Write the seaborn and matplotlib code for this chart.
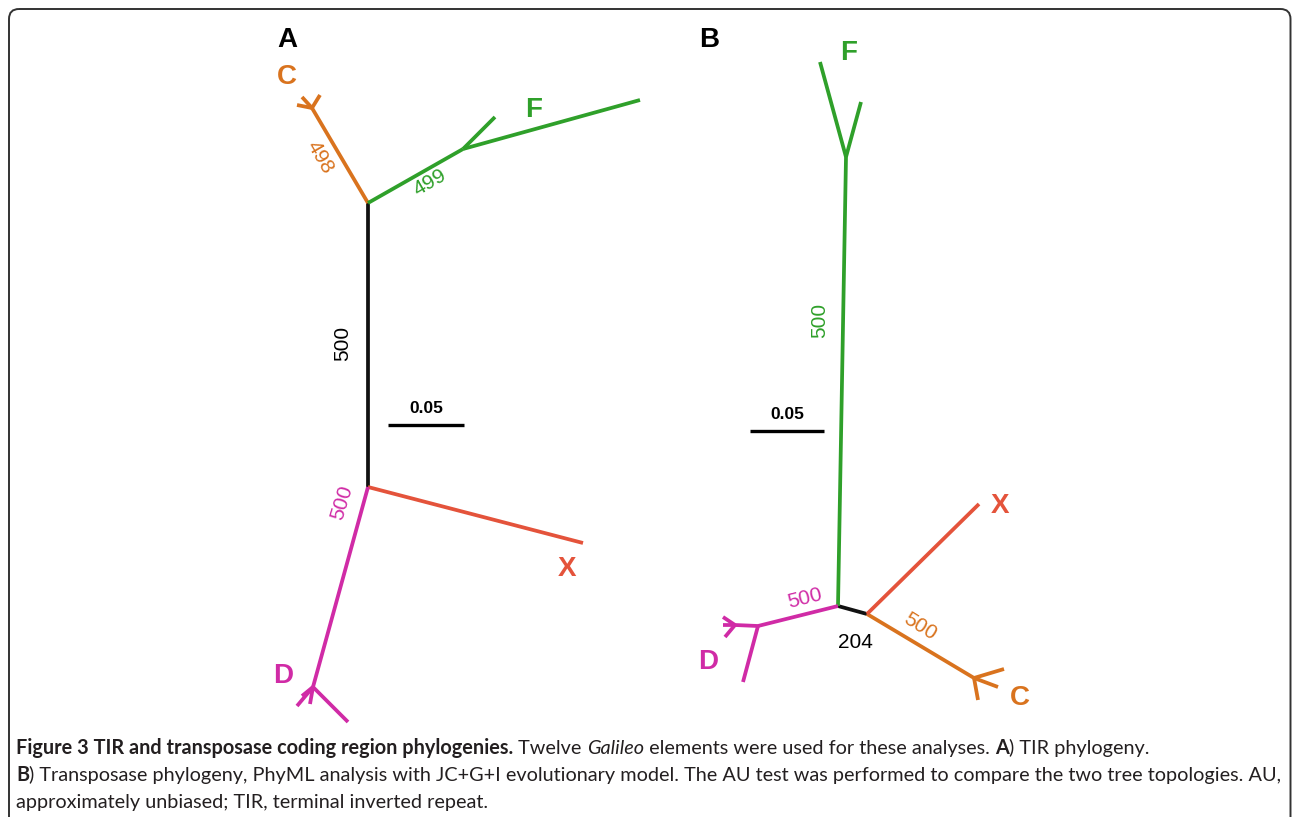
import seaborn as sns
import matplotlib.pyplot as plt
import pandas as pd
from matplotlib.patches import FancyBboxPatch

# 노드 좌표 (그림 픽셀 단위로 읽음) - 트리 A (TIR)
a_nodes = ['a_top', 'a_bot', 'C', 'C1', 'C2', 'C3', 'F', 'F1', 'F2', 'X', 'D', 'D1', 'D2', 'D3', 'D4']
a_x = [368, 368, 312, 297, 302, 320, 463, 495, 640, 583, 313, 348, 297, 302, 310]
a_y = [203, 487, 108, 105, 97, 95, 149, 117, 100, 543, 687, 722, 706, 696, 704]
a_parent = ['a_top', 'a_top', 'C', 'C', 'C', 'a_top', 'F', 'F', 'a_bot', 'a_bot', 'D', 'D', 'D', 'D']
a_child = ['a_bot', 'C', 'C1', 'C2', 'C3', 'F', 'F1', 'F2', 'X', 'D', 'D1', 'D2', 'D3', 'D4']
a_clade = ['int', 'C', 'C', 'C', 'C', 'F', 'F', 'F', 'X', 'D', 'D', 'D', 'D', 'D']

# 트리 B (transposase)
b_nodes = ['b_l', 'b_r', 'F', 'F1', 'F2', 'D', 'D1', 'Ds', 'D2', 'D3', 'D4', 'X', 'C', 'C1', 'C2', 'C3']
b_x = [838, 867, 846, 820, 861, 758, 743, 735, 723, 725, 723, 979, 974, 1004, 998, 978]
b_y = [606, 614, 157, 62, 102, 626, 682, 625, 617, 637, 625, 504, 678, 669, 687, 700]
b_parent = ['b_l', 'b_l', 'F', 'F', 'b_l', 'D', 'D', 'Ds', 'Ds', 'Ds', 'b_r', 'b_r', 'C', 'C', 'C']
b_child = ['b_r', 'F', 'F1', 'F2', 'D', 'D1', 'Ds', 'D2', 'D3', 'D4', 'X', 'C', 'C1', 'C2', 'C3']
b_clade = ['int', 'F', 'F', 'F', 'D', 'D', 'D', 'D', 'D', 'D', 'X', 'C', 'C', 'C', 'C']

# 부트스트랩 값
a_boot = ['498', '499', '500', '500']
b_boot = ['500', '500', '204', '500']

# 스케일 바 (0.05)
scale_x0 = [388, 750]
scale_x1 = [464, 824]
scale_y = [425, 431]

colors = {'C': '#D9731E', 'F': '#2FA02A', 'X': '#E4533B', 'D': '#D02BA6', 'int': '#111111'}

# 간선 데이터프레임 생성
rows = []
for tag, nodes, xs, ys, par, chi, cl in [('A', a_nodes, a_x, a_y, a_parent, a_child, a_clade),
                                         ('B', b_nodes, b_x, b_y, b_parent, b_child, b_clade)]:
    pos = {n: (x, y) for n, x, y in zip(nodes, xs, ys)}
    for i, (p, c, k) in enumerate(zip(par, chi, cl)):
        for n in (p, c):
            rows.append({'edge': f'{tag}{i}', 'clade': k, 'x': pos[n][0], 'y': pos[n][1]})
edges = pd.DataFrame(rows)

sns.set_theme(style='white')
plt.rcParams['font.family'] = ['Liberation Sans', 'DejaVu Sans']

fig = plt.figure(figsize=(12.92, 8.17), dpi=100)
ax = fig.add_axes([0, 0, 1, 1])
ax.set_xlim(0, 1292)
ax.set_ylim(817, 0)
ax.axis('off')

sns.lineplot(data=edges, x='x', y='y', units='edge', estimator=None, hue='clade',
             palette=colors, sort=False, legend=False, linewidth=2.7, ax=ax,
             solid_capstyle='butt')

# 스케일 바
for x0, x1, y in zip(scale_x0, scale_x1, scale_y):
    ax.plot([x0, x1], [y, y], color='black', lw=2.4, solid_capstyle='butt')
    ax.text((x0 + x1) / 2, y - 17, '0.05', ha='center', va='center', fontsize=12.5,
            fontweight='bold', color='black')

# 패널/분류군 라벨
big = dict(fontsize=20, fontweight='bold', ha='center', va='center')
ax.text(287, 40, 'A', color='black', **big)
ax.text(709, 40, 'B', color='black', **big)
ax.text(287, 77, 'C', color=colors['C'], **big)
ax.text(534, 110, 'F', color=colors['F'], **big)
ax.text(567, 569, 'X', color=colors['X'], **big)
ax.text(283, 676, 'D', color=colors['D'], **big)
ax.text(849, 53, 'F', color=colors['F'], **big)
ax.text(1000, 506, 'X', color=colors['X'], **big)
ax.text(708, 662, 'D', color=colors['D'], **big)
ax.text(1020, 698, 'C', color=colors['C'], **big)

# 지지도 값
num = dict(fontsize=15, ha='center', va='center', rotation_mode='anchor')
ax.text(320, 157, a_boot[0], color=colors['C'], rotation=-60, **num)
ax.text(430, 183, a_boot[1], color=colors['F'], rotation=30, **num)
ax.text(343, 343, a_boot[2], color='black', rotation=90, **num)
ax.text(342, 503, a_boot[3], color=colors['D'], rotation=73, **num)
ax.text(820, 320, b_boot[0], color=colors['F'], rotation=90, **num)
ax.text(805, 598, b_boot[1], color=colors['D'], rotation=14, **num)
ax.text(855, 642, b_boot[2], color='black', rotation=0, **num)
ax.text(920, 627, b_boot[3], color=colors['C'], rotation=-32, **num)

# 테두리
ax.add_patch(FancyBboxPatch((9, 9), 1281.5, 900, boxstyle='round,pad=0,rounding_size=10',
                            fc='none', ec='#333333', lw=1.4))

# 캡션 (굵게/기울임 섞어서)
cap_font = ['Lato', 'DejaVu Sans']
cap_size = 14.3
cap_color = '#231F20'
caption = [
    [('Figure 3 TIR and transposase coding region phylogenies.', 'bold', 'normal'),
     (' Twelve ', 'normal', 'normal'), ('Galileo', 'normal', 'italic'),
     (' elements were used for these analyses. ', 'normal', 'normal'),
     ('A', 'bold', 'normal'), (') TIR phylogeny.', 'normal', 'normal')],
    [('B', 'bold', 'normal'),
     (') Transposase phylogeny, PhyML analysis with JC+G+I evolutionary model. The AU test was performed to compare the two tree topologies. AU,',
      'normal', 'normal')],
    [('approximately unbiased; TIR, terminal inverted repeat.', 'normal', 'normal')],
]
cap_y = [754, 781, 808]
renderer = fig.canvas.get_renderer()
for parts, y in zip(caption, cap_y):
    x = 16
    for s, w, st in parts:
        t = ax.text(x, y, s, ha='left', va='baseline', fontsize=cap_size, fontweight=w,
                    fontstyle=st, family=cap_font, color=cap_color)
        x += t.get_window_extent(renderer).width

plt.savefig('out.png', dpi=100)
